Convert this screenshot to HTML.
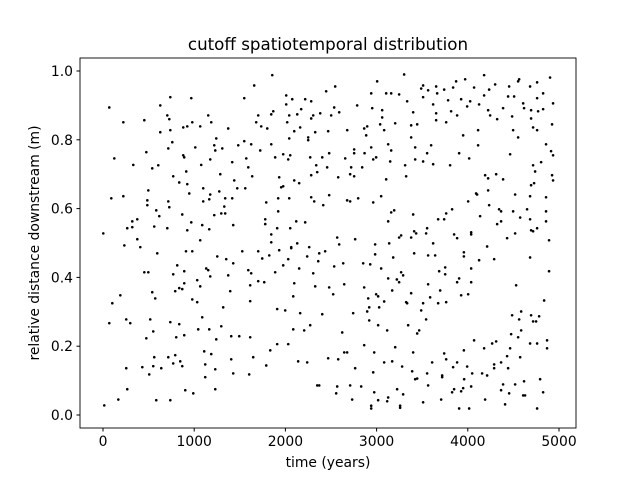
<!DOCTYPE html>
<html><head><meta charset="utf-8"><style>
body{margin:0;background:#fff;}
svg{display:block;font-family:"DejaVu Sans","Liberation Sans",sans-serif;}
</style></head><body>
<svg id="chart" width="640" height="480">
<rect width="640" height="480" fill="#fff"/>
<text x="328" y="50" font-size="16.7" text-anchor="middle">cutoff spatiotemporal distribution</text>
<text x="328" y="467" font-size="13.9" text-anchor="middle">time (years)</text>
<text transform="translate(39,243) rotate(-90)" font-size="13.9" text-anchor="middle">relative distance downstream (m)</text>
<g id="ticks"></g>
<g id="points"></g>
<rect x="80" y="58" width="496" height="370" fill="none" stroke="#000" stroke-width="0.9"/>
</svg>
<script>
const xTicks=[0,1000,2000,3000,4000,5000];
const yTicks=[0.0,0.2,0.4,0.6,0.8,1.0];
const yTickLabels=["0.0","0.2","0.4","0.6","0.8","1.0"];
const years=[69,223,453,124,332,91,223,3,234,628,738,968,705,727,628,738,760,716,475,540,606,497,486,486,584,617,562,705,716,727,321,376,266,321,376,409,770,836,924,913,946,880,891,1012,880,924,979,1066,1154,1187,1242,1220,1231,1308,1176,1077,1286,1099,1099,1176,1165,1275,1340,1330,1297,1340,1220,869,968,924,1088,1165,1066,1428,1417,1472,1439,1560,1593,1636,1571,1417,1483,1549,1625,1724,1373,1549,1658,1856,1702,1680,1735,1801,1845,1867,1845,1888,1932,1954,1976,1921,1790,1921,1779,1779,1910,1845,1845,2053,2119,2217,2130,2064,2261,2042,2097,2151,2283,2316,2415,2480,2283,2349,2458,2338,2272,2404,2480,1976,2053,2031,2042,2097,2162,2250,2250,2327,2469,2283,2305,2382,2042,2020,2130,2173,2009,2075,2009,2217,2283,2447,
2546,2535,2590,2502,2678,2579,2656,2721,2710,2754,2842,2754,2754,2868,2864,2897,2886,2941,2963,2995,3039,3083,3061,3061,2952,2787,2941,3006,3105,3160,3247,3302,3335,3204,3127,3160,3149,3105,3313,3324,3423,3423,3379,3379,3445,3401,3489,3510,3565,3653,3664,3741,3839,3872,3971,4069,4179,4234,4300,4179,4453,4552,4563,4683,4760,4902,4826,4760,4442,4508,4607,4617,4694,4771,4826,4935,4694,4486,4387,4322,4245,4223,4124,4026,3993,3927,3784,3817,3883,3763,3653,3653,3620,3510,4497,4552,4716,4760,4924,4858,4913,4935,4464,4716,4804,4738,4694,4727,4924,4935,4519,4683,4858,4858,4858,4891,4650,4574,4683,4760,4694,4716,4519,4431,4497,4365,4343,4365,4322,4234,4223,4190,4223,4311,4387,4113,4113,4015,3949,3905,4091,4102,4004,4135,3828,3763,3741,3675,3850,3883,4037,4037,4212,3806,3598,3554,3510,3620,3401,3193,3160,3127,3050,2963,2798,2710,2677,2568,2590,2765,2984,3138,3247,3269,3379,3412,3434,3543,3554,3620,
595,910,979,1253,1351,1428,1527,1702,1746,1823,1932,2064,2371,2436,2239,2031,1976,2151,2360,2305,2327,2480,2097,2086,2162,2404,2272,2206,2086,1998,1910,1888,1768,1702,1593,1625,1614,1614,1373,1395,1318,1297,1242,1165,1044,1088,1033,979,1066,1033,1176,1154,1132,770,814,891,891,792,836,869,453,497,540,573,190,102,69,255,299,518,551,475,738,836,803,891,562,255,431,507,551,639,716,792,770,847,869,266,168,14,584,738,902,990,1231,1121,1121,1110,1187,1231,1406,1428,1603,1647,1790,1834,1910,2031,2140,2239,2349,2371,2469,1406,1494,1614,
2984,3182,3412,3565,3642,3957,3957,4124,4289,4683,4891,4530,4837,2535,2634,2853,2930,3050,2645,2524,2864,2995,3017,2908,2919,2897,2919,3028,3083,3127,3171,3222,3247,3269,3291,3379,3324,3335,3510,3587,3565,3697,3686,3752,3752,3675,3763,3883,3905,3927,4004,4037,4037,3489,3543,3467,3445,3346,3116,3017,2743,2623,2645,2677,2864,2974,3204,3401,2579,2765,2963,3083,3171,3280,3390,3423,3445,3554,3609,3565,3510,3719,3719,3741,3763,3839,3883,3993,4048,3960,4069,3957,4179,4267,4311,4157,4212,4289,4289,4365,4431,4442,4464,4475,4486,4552,4585,4563,4585,4574,4683,4694,4716,4749,4782,4760,4869,4869,4793,4826,4760,4617,4607,4628,4519,4453,4409,4387,4365,4190,4037,3949,3927,3850,3828,4015,3905,3708,3291,3225,3127,3116,3017,2974,2941,2941,3258,3258,2831,2710,2732,2568,2557];
const distances=[0.894,0.851,0.857,0.746,0.727,0.630,0.636,0.528,0.493,0.900,0.924,0.921,0.871,0.860,0.822,0.828,0.793,0.775,0.764,0.717,0.726,0.653,0.624,0.610,0.595,0.578,0.548,0.543,0.621,0.604,0.563,0.569,0.543,0.546,0.511,0.488,0.694,0.676,0.671,0.708,0.644,0.755,0.749,0.778,0.836,0.839,0.851,0.839,0.871,0.851,0.804,0.784,0.769,0.775,0.743,0.727,0.700,0.659,0.621,0.641,0.627,0.650,0.630,0.606,0.586,0.586,0.581,0.583,0.560,0.537,0.552,0.540,0.508,0.552,0.630,0.659,0.682,0.659,0.720,0.694,0.746,0.735,0.784,0.796,0.787,0.769,0.833,0.921,0.958,0.988,0.871,0.851,0.839,0.833,0.874,0.883,0.787,0.749,0.691,0.662,0.665,0.630,0.618,0.592,0.569,0.555,0.543,0.525,0.502,0.543,0.563,0.560,0.499,0.488,0.488,0.630,0.682,0.674,0.633,0.621,0.610,0.639,0.697,0.706,0.720,0.726,0.749,0.749,0.761,0.758,0.755,0.743,0.804,0.825,0.836,0.807,0.799,0.822,0.825,0.862,0.871,0.877,0.871,0.851,0.874,0.889,0.903,0.918,0.929,0.918,0.912,0.941,
0.955,0.894,0.880,0.871,0.828,0.691,0.746,0.720,0.700,0.694,0.720,0.761,0.772,0.761,0.833,0.839,0.813,0.778,0.743,0.749,0.845,0.828,0.865,0.886,0.892,0.900,0.935,0.970,0.935,0.935,0.932,0.990,0.912,0.848,0.787,0.769,0.737,0.685,0.726,0.694,0.778,0.743,0.807,0.842,0.845,0.880,0.949,0.958,0.944,0.955,0.935,0.946,0.952,0.970,0.976,0.952,0.988,0.946,0.961,0.929,0.955,0.970,0.976,0.955,0.967,0.981,0.935,0.921,0.926,0.926,0.906,0.892,0.886,0.883,0.889,0.906,0.862,0.868,0.892,0.860,0.871,0.886,0.903,0.912,0.897,0.918,0.915,0.883,0.871,0.851,0.857,0.877,0.903,0.924,0.828,0.807,0.836,0.828,0.845,0.787,0.767,0.755,0.758,0.726,0.735,0.708,0.668,0.674,0.697,0.682,0.641,0.636,0.633,0.592,0.563,0.508,0.598,0.574,0.569,0.543,0.537,0.534,0.528,0.514,0.592,0.592,0.598,0.563,0.555,0.610,0.653,0.697,0.688,0.700,0.685,0.784,0.828,0.746,0.813,0.761,0.644,0.641,0.621,0.578,0.598,0.586,0.569,0.569,0.525,0.514,0.531,0.525,0.490,0.726,0.784,0.761,0.737,0.729,0.583,0.595,0.589,0.563,0.636,0.618,0.630,0.621,0.624,0.516,0.496,0.511,0.496,0.499,0.516,0.522,0.516,0.534,0.528,0.528,0.543,0.499,
0.470,0.476,0.476,0.461,0.453,0.441,0.476,0.476,0.455,0.464,0.479,0.485,0.470,0.476,0.461,0.453,0.435,0.426,0.447,0.412,0.374,0.371,0.383,0.345,0.296,0.293,0.261,0.246,0.249,0.304,0.308,0.415,0.386,0.389,0.421,0.412,0.377,0.331,0.406,0.360,0.313,0.258,0.220,0.249,0.249,0.284,0.328,0.336,0.374,0.392,0.403,0.421,0.426,0.409,0.435,0.418,0.383,0.360,0.369,0.366,0.415,0.415,0.357,0.339,0.348,0.325,0.267,0.278,0.267,0.278,0.243,0.223,0.270,0.264,0.226,0.232,0.168,0.136,0.139,0.118,0.142,0.136,0.168,0.174,0.150,0.156,0.142,0.075,0.045,0.028,0.043,0.043,0.072,0.063,0.075,0.110,0.147,0.185,0.177,0.133,0.162,0.121,0.118,0.168,0.144,0.188,0.206,0.206,0.156,0.153,0.086,0.086,0.165,0.229,0.229,0.226,
0.467,0.458,0.470,0.464,0.464,0.473,0.461,0.450,0.453,0.458,0.418,0.377,0.333,0.432,0.441,0.441,0.438,0.426,0.380,0.351,0.371,0.351,0.345,0.339,0.313,0.301,0.275,0.313,0.330,0.397,0.362,0.394,0.386,0.415,0.406,0.354,0.328,0.325,0.325,0.342,0.380,0.362,0.418,0.429,0.409,0.325,0.328,0.386,0.397,0.348,0.351,0.386,0.426,0.304,0.278,0.246,0.237,0.261,0.246,0.261,0.296,0.240,0.182,0.182,0.203,0.182,0.197,0.182,0.162,0.136,0.124,0.153,0.156,0.141,0.127,0.104,0.106,0.121,0.153,0.086,0.037,0.115,0.110,0.179,0.162,0.139,0.153,0.141,0.121,0.104,0.217,0.188,0.194,0.208,0.214,0.121,0.115,0.147,0.136,0.153,0.171,0.136,0.194,0.235,0.290,0.226,0.246,0.278,0.301,0.168,0.208,0.290,0.272,0.272,0.287,0.208,0.217,0.194,0.104,0.066,0.019,0.098,0.057,0.057,0.089,0.063,0.031,0.089,0.072,0.045,0.083,0.078,0.069,0.075,0.066,0.019,0.019,0.045,0.060,0.075,0.051,0.040,0.043,0.066,0.027,0.019,0.027,0.021,0.083,0.086,0.045,0.083,0.063];

const NS="http://www.w3.org/2000/svg";
function xScale(v){return 103+v*0.0912;}
function yScale(v){return 415-v*344;}
const tg=document.getElementById('ticks');
xTicks.forEach(t=>{
  const x=xScale(t);
  const l=document.createElementNS(NS,'line');
  l.setAttribute('x1',x);l.setAttribute('x2',x);l.setAttribute('y1',428);l.setAttribute('y2',431.5);
  l.setAttribute('stroke','#000');
  
  
  tg.appendChild(l);
  const tx=document.createElementNS(NS,'text');
  tx.setAttribute('x',x);tx.setAttribute('y',446);tx.setAttribute('font-size','13.9');tx.setAttribute('text-anchor','middle');
  tx.textContent=t;
  
  
  tg.appendChild(tx);
});
yTicks.forEach((t,i)=>{
  const y=yScale(t);
  const l=document.createElementNS(NS,'line');
  l.setAttribute('x1',76.5);l.setAttribute('x2',80);l.setAttribute('y1',y);l.setAttribute('y2',y);
  l.setAttribute('stroke','#000');
  
  
  tg.appendChild(l);
  const tx=document.createElementNS(NS,'text');
  tx.setAttribute('x',73);tx.setAttribute('y',y+5);tx.setAttribute('font-size','13.9');tx.setAttribute('text-anchor','end');
  tx.textContent=yTickLabels[i];
  
  
  tg.appendChild(tx);
});
const pg=document.getElementById('points');
const n=Math.min(years.length,distances.length);
for(let i=0;i<n;i++){
  const c=document.createElementNS(NS,'circle');
  c.setAttribute('cx',xScale(years[i]));
  c.setAttribute('cy',yScale(distances[i]));
  c.setAttribute('r',1.3);
  c.setAttribute('fill','#000');
  
  
  pg.appendChild(c);
}
</script>
</body></html>
